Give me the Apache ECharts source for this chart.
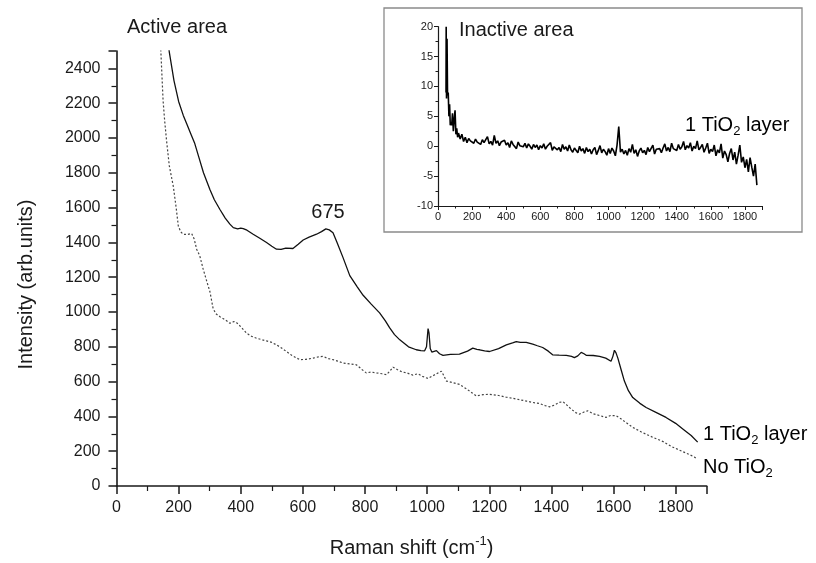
<!DOCTYPE html>
<html>
<head>
<meta charset="utf-8">
<script src="https://cdn.jsdelivr.net/npm/echarts@6/dist/echarts.min.js"></script>
<style>
  html, body { margin: 0; padding: 0; background: #fff; }
  #box { width: 816px; height: 563px; }
</style>
</head>
<body>
<div id="box"></div>
<script>
// 主图：1 TiO2 layer（实线）
const layerX = [163,170,185,200,215,226,240,252,265,280,301,315,333,350,365,376,390,400,408,420,440,460,483,500,515,530,545,568,585,601,620,644,660,674,685,697,710,729,751,775,794,820,847,865,879,895,912,922,940,965,980,992,998,1003,1006,1010,1015,1030,1040,1051,1075,1104,1130,1147,1160,1169,1185,1201,1230,1255,1275,1287,1300,1319,1340,1355,1372,1390,1404,1425,1448,1465,1474,1485,1496,1505,1512,1535,1555,1575,1592,1598,1603,1608,1614,1625,1635,1648,1662,1685,1705,1735,1769,1800,1823,1850,1871];
const layerY = [2600,2493,2330,2210,2130,2082,2020,1968,1890,1800,1702,1645,1589,1540,1505,1485,1478,1482,1479,1470,1447,1425,1399,1378,1361,1360,1367,1365,1390,1414,1430,1447,1462,1478,1472,1456,1400,1314,1209,1145,1096,1045,995,950,910,870,840,826,800,783,778,777,800,905,880,790,770,778,760,751,756,758,775,792,785,783,776,773,790,811,822,830,826,825,815,806,796,775,754,752,751,745,738,748,768,760,751,750,745,735,717,745,780,765,735,665,603,548,508,475,451,425,394,360,328,290,252];

// 主图：No TiO2（点线）
const noLayerX = [140,143,150,155,161,170,183,192,199,207,215,228,242,250,258,268,279,290,301,311,320,333,350,365,378,386,400,419,435,451,470,483,500,515,530,547,565,590,610,633,650,665,680,697,712,729,750,772,790,804,820,837,855,869,880,890,905,920,935,954,970,985,1003,1020,1035,1046,1055,1062,1080,1104,1125,1145,1158,1180,1201,1230,1255,1276,1300,1320,1340,1360,1380,1394,1410,1425,1437,1450,1465,1480,1490,1505,1517,1535,1555,1576,1590,1608,1625,1640,1662,1690,1726,1760,1790,1820,1845,1860,1865];
const noLayerY = [2600,2489,2214,2100,1987,1840,1721,1600,1494,1460,1447,1445,1451,1420,1361,1323,1247,1180,1115,1020,990,973,955,935,945,940,915,878,860,849,840,834,825,811,795,773,750,726,728,735,742,745,733,726,718,707,702,697,670,650,655,650,645,640,660,683,668,655,650,637,645,630,618,635,650,660,630,603,595,584,560,535,518,525,527,520,510,504,495,488,480,475,462,455,465,480,485,465,440,420,413,425,432,415,405,394,405,404,385,365,337,310,280,255,224,200,180,167,160];

// 插图：Inactive area
const insetX = [47,48,50,53,56,60,64,68,72,76,80,85,90,95,100,105,110,115,120,
  130,140,150,160,170,180,190,200,
  210,220,230,240,250,260,270,280,290,300,
  310,320,330,340,350,360,370,380,390,400,
  410,420,430,440,450,460,470,480,490,500,
  510,520,530,540,550,560,570,580,590,600,
  610,620,630,640,650,660,670,680,690,700,
  710,720,730,740,750,760,770,780,790,800,
  810,820,830,840,850,860,870,880,890,900,
  910,920,930,940,950,960,970,980,990,1000,
  1010,1020,1030,1040,1050,1060,1070,1080,1090,1100,
  1110,1120,1130,1140,1150,1160,1170,1180,1190,1200,
  1210,1220,1230,1240,1250,1260,1270,1280,1290,1300,
  1310,1320,1330,1340,1350,1360,1370,1380,1390,1400,
  1410,1420,1430,1440,1450,1460,1470,1480,1490,1500,
  1510,1520,1530,1540,1550,1560,1570,1580,1590,1600,
  1610,1620,1630,1640,1650,1660,1670,1680,1690,1700,
  1710,1720,1730,1740,1750,1760,1770,1780,1790,1800,
  1810,1820,1830,1840,1850,1860,1870];
const insetY = [9,20,8,18,8.5,9,5,7,3.5,4,3.5,5.5,2.5,4.5,6,2,3,1.5,2.2,
  1.2,2.0,0.8,1.5,0.6,1.3,0.9,1.1,
  0.5,1.2,0.7,1.0,0.3,1.1,0.6,0.9,1.6,0.4,
  0.8,0.2,1.8,0.5,0.9,0.1,0.7,0.4,1.0,0.2,
  0.6,-0.2,0.9,0.3,0.5,-0.4,0.7,0.1,0.4,-0.1,
  0.5,-0.3,0.4,0.0,-0.5,0.3,-0.2,0.2,-0.6,0.1,
  -0.3,0.4,-0.5,0.0,-0.2,0.6,-0.7,-0.1,0.2,-0.6,
  -0.2,-0.9,0.3,-0.5,-0.1,-0.8,0.2,-0.6,-1.0,-0.3,
  -0.5,-1.1,0.0,-0.8,-0.4,-1.2,-0.2,-0.9,-0.5,-1.3,
  -0.6,-0.2,-1.4,-0.7,0.1,-1.1,-0.5,-0.9,-1.5,-0.4,
  -1.2,-0.3,-0.8,-1.6,0.2,3.3,-1.0,-0.5,-1.3,-0.7,
  -1.5,-0.4,-1.0,0.3,-1.2,-0.6,-1.7,-0.8,-0.3,-1.1,
  -0.7,-1.4,-0.2,-0.9,-1.0,0.2,-1.3,-0.5,-0.8,-0.4,
  -1.1,-0.3,0.4,-0.8,-0.2,-0.9,0.5,-0.4,-0.1,-0.7,
  0.3,-0.5,-0.1,0.8,-0.6,0.1,-0.3,0.6,-0.8,0.0,
  -0.4,0.9,-0.6,-0.2,0.3,-1.0,-0.3,0.5,-1.2,-0.5,
  -0.9,0.2,-1.6,-0.6,-1.1,0.4,-2.0,-0.8,-1.4,-2.6,
  -1.2,-0.4,-2.3,-1.0,-3.0,-1.5,0.2,-2.7,-1.8,-3.6,
  -2.2,-4.3,-1.9,-3.5,-5.0,-3.0,-6.5];

const FONT = '"Liberation Sans", Arial, sans-serif';
const INK = '#1a1a1a';

function pairs(xs, ys) {
    return xs.map(function (x, i) { return [x, ys[i]]; });
}

// 不要千分位逗号
function plain(v) {
    return String(v);
}

// 下标/上标的富文本样式
const richText = {
    n: { fontSize: 20, fontFamily: FONT, color: INK, lineHeight: 26 },
    sub: { fontSize: 13, fontFamily: FONT, color: INK, lineHeight: 13, verticalAlign: 'bottom' },
    sup: { fontSize: 13, fontFamily: FONT, color: INK, lineHeight: 13, verticalAlign: 'top' }
};

function axisStyle(big) {
    return {
        axisLine: { show: true, onZero: false, lineStyle: { color: INK, width: big ? 1.6 : 1.2 } },
        axisTick: { show: true, length: big ? 8 : 4, lineStyle: { color: INK, width: big ? 1.5 : 1 } },
        minorTick: { show: true, splitNumber: 2, length: big ? 5 : 2.5, lineStyle: { color: INK, width: big ? 1.2 : 1 } },
        splitLine: { show: false },
        minorSplitLine: { show: false }
    };
}

let chart = echarts.init(document.getElementById('box'));

let option = {
    animation: false,
    backgroundColor: '#fff',
    grid: [
        { left: 116.5, top: 51, right: 109.3, bottom: 73.7 },
        { left: 438, top: 26.7, width: 324, height: 179.3 }
    ],
    xAxis: [
        Object.assign({
            gridIndex: 0, type: 'value', min: 0, max: 1900, interval: 200,
            name: '{n|Raman shift (cm}{sup|-1}{n|)}',
            nameLocation: 'middle', nameGap: 49,
            nameTextStyle: { rich: richText },
            axisLabel: { fontSize: 16, fontFamily: FONT, color: INK, margin: 14, showMaxLabel: false, formatter: plain }
        }, axisStyle(true)),
        Object.assign({
            gridIndex: 1, type: 'value', min: 0, max: 1900, interval: 200,
            axisLabel: { fontSize: 11, fontFamily: FONT, color: INK, margin: 5, showMaxLabel: false, formatter: plain }
        }, axisStyle(false))
    ],
    yAxis: [
        Object.assign({
            gridIndex: 0, type: 'value', min: 0, max: 2500, interval: 200,
            name: 'Intensity (arb.units)',
            nameLocation: 'middle', nameGap: 80,
            nameTextStyle: { fontSize: 20, fontFamily: FONT, color: INK, padding: [0, 32, 0, 0] },
            axisLabel: { fontSize: 16, fontFamily: FONT, color: INK, margin: 16, showMaxLabel: false, formatter: plain }
        }, axisStyle(true)),
        Object.assign({
            gridIndex: 1, type: 'value', min: -10, max: 20, interval: 5,
            axisLabel: { fontSize: 11, fontFamily: FONT, color: INK, margin: 5, formatter: plain }
        }, axisStyle(false))
    ],
    graphic: [
        {
            type: 'rect', z: -1,
            shape: { x: 384, y: 8, width: 418, height: 224 },
            style: { fill: '#fff', stroke: '#8a8a8a', lineWidth: 1.3 }
        },
        {
            type: 'text', x: 127, y: 27,
            style: { text: 'Active area', font: '20px ' + FONT, fill: INK, textVerticalAlign: 'middle', verticalAlign: 'middle' }
        },
        {
            type: 'text', x: 328, y: 212,
            style: { text: '675', font: '20px ' + FONT, fill: INK, textAlign: 'center', align: 'center', textVerticalAlign: 'middle', verticalAlign: 'middle' }
        },
        {
            type: 'text', x: 459, y: 30,
            style: { text: 'Inactive area', font: '20px ' + FONT, fill: INK, textVerticalAlign: 'middle', verticalAlign: 'middle' }
        },
        {
            type: 'text', x: 685, y: 125,
            style: { text: '{n|1 TiO}{sub|2}{n| layer}', rich: richText, textVerticalAlign: 'middle', verticalAlign: 'middle' }
        },
        {
            type: 'text', x: 703, y: 434,
            style: { text: '{n|1 TiO}{sub|2}{n| layer}', rich: richText, textVerticalAlign: 'middle', verticalAlign: 'middle' }
        },
        {
            type: 'text', x: 703, y: 467,
            style: { text: '{n|No TiO}{sub|2}', rich: richText, textVerticalAlign: 'middle', verticalAlign: 'middle' }
        }
    ],
    series: [
        {
            name: '1 TiO2 layer', type: 'line', xAxisIndex: 0, yAxisIndex: 0,
            showSymbol: false, clip: true,
            lineStyle: { color: '#111', width: 1.3 },
            data: pairs(layerX, layerY)
        },
        {
            name: 'No TiO2', type: 'line', xAxisIndex: 0, yAxisIndex: 0,
            showSymbol: false, clip: true,
            lineStyle: { color: '#444', width: 1.2, type: [2, 2] },
            data: pairs(noLayerX, noLayerY)
        },
        {
            name: 'Inactive', type: 'line', xAxisIndex: 1, yAxisIndex: 1,
            showSymbol: false, clip: true,
            lineStyle: { color: '#000', width: 1.6 },
            data: pairs(insetX, insetY)
        }
    ]
};

chart.setOption(option);
</script>
</body>
</html>
